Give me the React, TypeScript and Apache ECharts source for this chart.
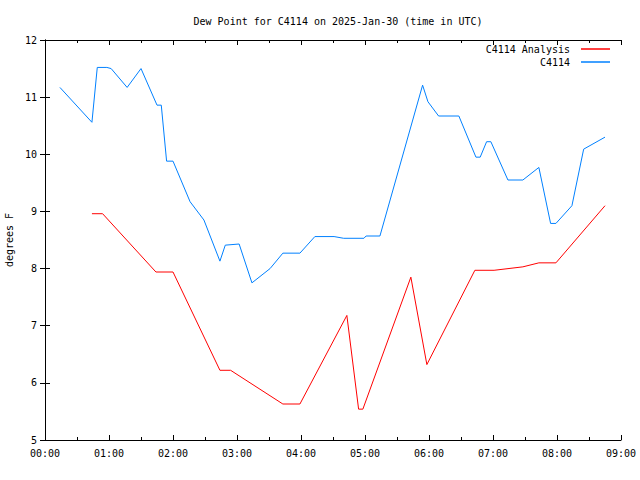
import React, { useEffect, useRef } from "react";
import * as echarts from "echarts";

const analysisTimes = ["00:44", "00:54", "01:44", "02:00", "02:44", "02:54", "03:43", "03:59", "04:43", "04:54", "04:58", "05:43", "05:58", "06:43", "07:01", "07:28", "07:43", "07:59", "08:45"];
const analysisValues = [8.96, 8.96, 7.94, 7.94, 6.22, 6.22, 5.63, 5.63, 7.18, 5.54, 5.54, 7.85, 6.32, 7.97, 7.97, 8.03, 8.1, 8.1, 9.1];

const obsTimes = ["00:14", "00:44", "00:49", "00:58", "01:02", "01:17", "01:30", "01:45", "01:49", "01:54", "02:00", "02:16", "02:29", "02:44", "02:49", "03:02", "03:14", "03:31", "03:43", "03:59", "04:13", "04:31", "04:40", "04:59", "05:01", "05:14", "05:54", "05:59", "06:09", "06:28", "06:44", "06:48", "06:54", "06:58", "07:14", "07:28", "07:43", "07:54", "07:59", "08:14", "08:25", "08:45"];
const obsValues = [11.17, 10.56, 11.52, 11.52, 11.5, 11.17, 11.5, 10.86, 10.86, 9.88, 9.88, 9.17, 8.85, 8.13, 8.41, 8.43, 7.75, 8.0, 8.27, 8.27, 8.56, 8.56, 8.53, 8.53, 8.57, 8.57, 11.21, 10.92, 10.67, 10.67, 9.95, 9.95, 10.22, 10.22, 9.55, 9.55, 9.77, 8.79, 8.79, 9.1, 10.09, 10.3];

const xTickMinutes = [0, 60, 120, 180, 240, 300, 360, 420, 480, 540];
const seriesNames = ["C4114 Analysis", "C4114"];

const toMin = (s: string) => {
  const [h, m] = s.split(":").map(Number);
  return h * 60 + m;
};
const fmt = (v: number) => {
  const h = Math.floor(v / 60);
  const m = v % 60;
  return String(h).padStart(2, "0") + ":" + String(m).padStart(2, "0");
};

const FONT = "DejaVu Sans Mono";

export default function App() {
  const ref = useRef<HTMLDivElement>(null);
  useEffect(() => {
    if (!ref.current) return;
    const chart = echarts.init(ref.current, null, { renderer: "svg" });
    const axisLine = { show: true, lineStyle: { color: "#000", width: 1 } };
    const xBase = {
      type: "value" as const,
      min: xTickMinutes[0],
      max: xTickMinutes[xTickMinutes.length - 1],
      interval: 60,
      axisLine,
      axisTick: { show: true, inside: true, length: 5, lineStyle: { color: "#000" } },
      minorTick: { show: true, splitNumber: 2, length: 3, lineStyle: { color: "#000" } },
      splitLine: { show: false },
    };
    const yBase = {
      type: "value" as const,
      min: 5,
      max: 12,
      interval: 1,
      axisLine,
      axisTick: { show: true, inside: true, length: 5, lineStyle: { color: "#000" } },
      splitLine: { show: false },
    };
    const legendText = { fontFamily: FONT, fontSize: 10, color: "#000", padding: [0, 6, 0, 0] };
    chart.setOption({
      animation: false,
      textStyle: { fontFamily: FONT },
      title: {
        text: "Dew Point for C4114 on 2025-Jan-30 (time in UTC)",
        left: 333,
        textAlign: "center",
        top: 11,
        textStyle: { fontFamily: FONT, fontSize: 10, fontWeight: "normal", color: "#000" },
      },
      legend: [
        {
          data: [seriesNames[0]],
          right: 30,
          top: 44,
          align: "right",
          icon: "rect",
          itemWidth: 29,
          itemHeight: 1.5,
          itemGap: 0,
          padding: 0,
          textStyle: legendText,
        },
        {
          data: [seriesNames[1]],
          right: 30,
          top: 57,
          align: "right",
          icon: "rect",
          itemWidth: 29,
          itemHeight: 1.5,
          itemGap: 0,
          padding: 0,
          textStyle: legendText,
        },
      ],
      grid: { left: 45, right: 19, top: 40, bottom: 40, containLabel: false, outerBoundsMode: "none" },
      xAxis: [
        {
          ...xBase,
          position: "bottom",
          axisLabel: { formatter: (v: number) => fmt(v), fontFamily: FONT, fontSize: 10, color: "#000", margin: 8 },
        },
        { ...xBase, position: "top", axisLabel: { show: false } },
      ],
      yAxis: [
        {
          ...yBase,
          position: "left",
          name: "degrees F",
          nameLocation: "middle",
          nameRotate: 90,
          nameGap: 30,
          nameTextStyle: { fontFamily: FONT, fontSize: 10, color: "#000" },
          axisLabel: { fontFamily: FONT, fontSize: 10, color: "#000", margin: 8 },
        },
        { ...yBase, position: "right", axisLabel: { show: false } },
      ],
      series: [
        {
          name: seriesNames[0],
          type: "line",
          color: "#ff0000",
          showSymbol: false,
          lineStyle: { width: 1, color: "#ff0000" },
          data: analysisTimes.map((t, i) => [toMin(t), analysisValues[i]]),
        },
        {
          name: seriesNames[1],
          type: "line",
          color: "#0080ff",
          showSymbol: false,
          lineStyle: { width: 1, color: "#0080ff" },
          data: obsTimes.map((t, i) => [toMin(t), obsValues[i]]),
        },
      ],
    });
    return () => chart.dispose();
  }, []);
  return (
    <div
      ref={ref}
      style={{ position: "fixed", left: 0, top: 0, width: 640, height: 480, background: "#fff" }}
    />
  );
}
